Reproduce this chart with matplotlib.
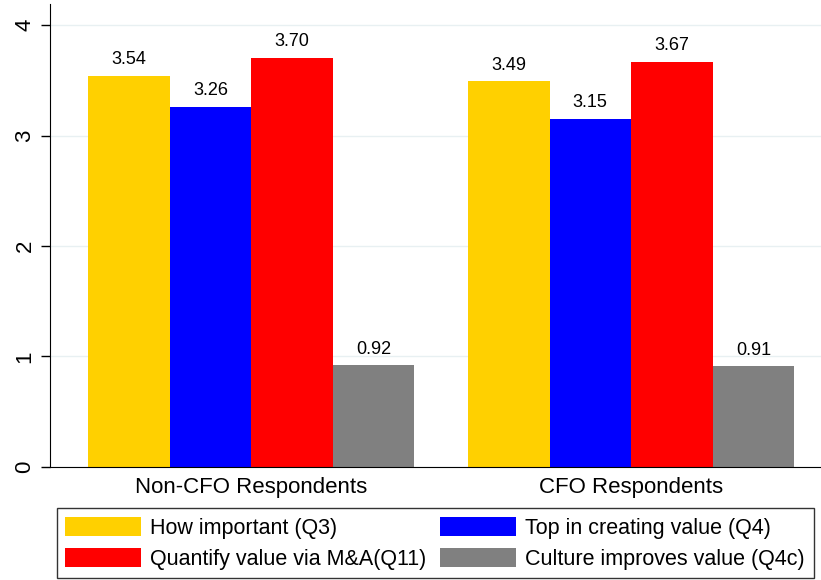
import matplotlib.pyplot as plt
from matplotlib.patches import Patch

plt.rcParams['font.family'] = ['Liberation Sans', 'DejaVu Sans']

groups = ["Non-CFO Respondents", "CFO Respondents"]
series = ["How important (Q3)", "Top in creating value (Q4)",
          "Quantify value via M&A(Q11)", "Culture improves value (Q4c)"]
values = [
    [3.54, 3.26, 3.70, 0.92],
    [3.49, 3.15, 3.67, 0.91],
]
colors = ["#ffd000", "#0000ff", "#ff0000", "#808080"]
yticks = [0, 1, 2, 3, 4]

fig = plt.figure(figsize=(8.21, 5.80), dpi=100)
ax = fig.add_axes([0.061, 0.195, 0.939, 0.798])

group_gap = 0.66
for g, vals in enumerate(values):
    start = g * (len(vals) + group_gap)
    for i, v in enumerate(vals):
        x = start + i + 0.5
        ax.bar(x, v, width=1.0, color=colors[i], linewidth=0)
        ax.text(x, v + 0.07, f"{v:.2f}", ha="center", va="bottom", fontsize=13)

centers = [g * (4 + group_gap) + 2 for g in range(len(groups))]
ax.set_xticks(centers)
ax.set_xticklabels(groups, fontsize=16)
ax.tick_params(axis="x", length=0, pad=7)

ax.set_yticks(yticks)
ax.set_yticklabels([str(t) for t in yticks], rotation=90, va="center", fontsize=16)
ax.tick_params(axis="y", length=6.5, width=1, pad=4)

ax.set_xlim(-0.466, 8.99)
ax.set_ylim(0, 4.19)
ax.yaxis.grid(True, color="#e8f0f2", linewidth=1)
ax.set_axisbelow(True)
for side in ["top", "right"]:
    ax.spines[side].set_visible(False)

handles = [Patch(facecolor=c, edgecolor="none") for c in colors]
# order so that the two columns read left-to-right across rows
order = [0, 2, 1, 3]
leg = fig.legend([handles[i] for i in order], [series[i] for i in order],
                 ncol=2, loc="lower left", bbox_to_anchor=(0.069, 0.003),
                 fontsize=15.5, frameon=True, fancybox=False,
                 edgecolor="black", handlelength=3.5, handleheight=1.0,
                 handletextpad=0.45, columnspacing=0.64, labelspacing=0.4,
                 borderpad=0.4, borderaxespad=0)
leg.get_frame().set_linewidth(1)

fig.savefig("out.png", dpi=100)
